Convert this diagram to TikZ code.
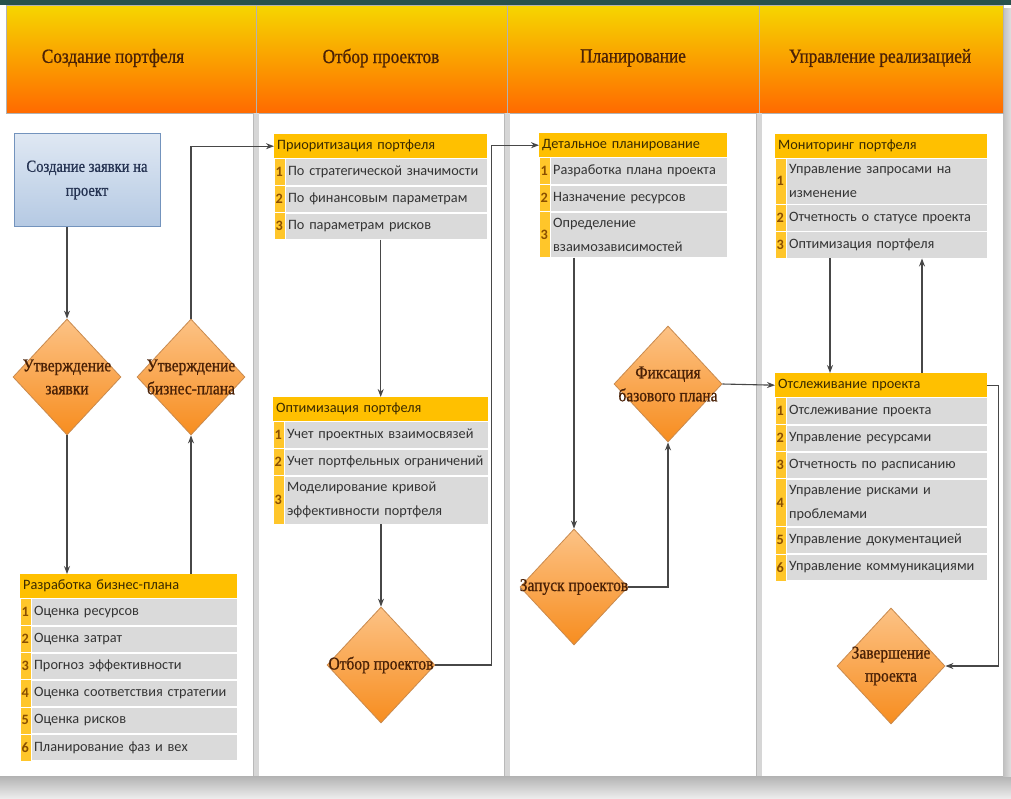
\documentclass[tikz,border=0pt]{standalone}
\usepackage{fontspec}
\setmainfont{Liberation Serif}
\newfontfamily\titlefont[FakeStretch=0.86,FakeBold=0.8]{Liberation Serif}
\newfontfamily\itemfont{Carlito}
\newcommand\rowfont{\itemfont\fontsize{14.3}{24}\selectfont}
\usetikzlibrary{shapes.geometric,arrows.meta,positioning}
\definecolor{headtop}{HTML}{F6D600}
\definecolor{headmid}{HTML}{FFA400}
\definecolor{headbot}{HTML}{FF6A00}
\definecolor{titlebrown}{HTML}{4A2106}
\definecolor{headyel}{HTML}{FFC000}
\definecolor{numyel}{HTML}{FFC62A}
\definecolor{itemgray}{HTML}{DADADA}
\definecolor{itemtext}{HTML}{343434}
\definecolor{headtext}{HTML}{3A2A00}
\definecolor{numtext}{HTML}{8A4F00}
\definecolor{diatop}{HTML}{FCC285}
\definecolor{diabot}{HTML}{F78D1F}
\definecolor{diaedge}{HTML}{C98A4E}
\definecolor{boxtop}{HTML}{DFE8F3}
\definecolor{boxbot}{HTML}{B5C9E3}
\definecolor{boxedge}{HTML}{7393BD}
\definecolor{boxtext}{HTML}{253352}
\definecolor{arrowgray}{HTML}{474747}
\definecolor{slideteal}{HTML}{27514B}
\definecolor{divgray}{HTML}{D6D6D6}

\begin{document}
\begin{tikzpicture}[x=1pt,y=-1pt,
    flow/.style={draw=arrowgray, line width=1.1pt, -{Stealth[length=8pt,width=6pt]}},
    lane/.style={anchor=north west, minimum height=108pt, inner sep=0pt, top color=headtop, middle color=headmid, bottom color=headbot, draw=gray!60, line width=0.4pt},
    lanetitle/.style={font=\titlefont\fontsize{20}{24}\selectfont, text=titlebrown},
    decision/.style={diamond, minimum width=108pt, minimum height=116pt, inner sep=0pt, top color=diatop, bottom color=diabot, draw=diaedge, line width=0.8pt},
    dtext/.style={font=\titlefont\fontsize{18}{23}\selectfont, text=titlebrown, align=center},
    reqbox/.style={minimum width=146pt, minimum height=93pt, top color=boxtop, bottom color=boxbot, draw=boxedge, line width=0.8pt, font=\titlefont\fontsize{17}{24}\selectfont, text=boxtext, align=center},
    listhead/.style={anchor=north west, fill=headyel, text=headtext, font=\rowfont, inner xsep=3pt, inner ysep=0pt, minimum height=24pt, text width=#1, align=left},
    itemrow/.style={anchor=north east, fill=itemgray, draw=white, line width=0.6pt, text=itemtext, font=\rowfont, inner xsep=3pt, inner ysep=6pt, minimum height=26.5pt, text width=#1, align=left},
    itemnum/.style={text=numtext, font=\rowfont\bfseries, inner sep=0pt}]

    \useasboundingbox (0,0) rectangle (1011,798);
    \fill[white] (0,0) rectangle (1011,798);
    \fill[top color=gray!60, bottom color=gray!15] (0,776) rectangle (1011,798);
    \fill[left color=gray!50, right color=gray!25] (1003,8) rectangle (1011,776);
    \fill[slideteal] (0,0) rectangle (1011,5);
    \fill[white] (6,5) rectangle (1003,776);

    \node[lane, minimum width=250pt] (h1) at (  6,5) {};
    \node[lane, minimum width=251pt] (h2) at (256,5) {};
    \node[lane, minimum width=252pt] (h3) at (507,5) {};
    \node[lane, minimum width=244pt] (h4) at (759,5) {};
    \node[lanetitle] (t1) at (113,58) {Создание портфеля};
    \node[lanetitle] (t2) at (381,58) {Отбор проектов};
    \node[lanetitle] (t3) at (633,58) {Планирование};
    \node[lanetitle] (t4) at (880,58) {Управление реализацией};

    \foreach \x in {256,507,759} {
        \draw[divgray, line width=5pt] (\x,113) -- (\x,776);
        \draw[gray!55, line width=0.5pt] (\x-2.5,113) -- (\x-2.5,776);
    }

    \node[reqbox] (zayavka) at (87,180) {Создание заявки на\\проект};
    \node[decision, label={[dtext,name=utv1t]center:Утверждение\\заявки}] (utv1) at ( 67,377) {};
    \node[decision, label={[dtext,name=utv2t]center:Утверждение\\бизнес-плана}] (utv2) at (191,377) {};
    \node[decision, label={[dtext,name=otbort]center:Отбор проектов}] (otbor) at (381,665) {};
    \node[decision, label={[dtext,name=zapuskt]center:Запуск проектов}] (zapusk) at (574,587) {};
    \node[decision, label={[dtext,name=fikst]center:Фиксация\\базового плана}] (fiks) at (668,384) {};
    \node[decision, label={[dtext,name=zavt]center:Завершение\\проекта}] (zav) at (891,666) {};

    \node[listhead=211] (bp) at (20,574) {Разработка бизнес-плана};
    \node[itemrow=200] (b1) at (bp.south east) {Оценка ресурсов};
    \node[itemrow=200] (b2) at (b1.south east) {Оценка затрат};
    \node[itemrow=200] (b3) at (b2.south east) {Прогноз эффективности};
    \node[itemrow=200] (b4) at (b3.south east) {Оценка соответствия стратегии};
    \node[itemrow=200] (b5) at (b4.south east) {Оценка рисков};
    \node[itemrow=200] (b6) at (b5.south east) {Планирование фаз и вех};

    \node[listhead=207] (prio) at (274,134) {Приоритизация портфеля};
    \node[itemrow=196] (p1) at (prio.south east) {По стратегической значимости};
    \node[itemrow=196] (p2) at (p1.south east) {По финансовым параметрам};
    \node[itemrow=196] (p3) at (p2.south east) {По параметрам рисков};

    \node[listhead=209] (opt) at (273,397) {Оптимизация портфеля};
    \node[itemrow=198] (o1) at (opt.south east) {Учет проектных взаимосвязей};
    \node[itemrow=198] (o2) at (o1.south east) {Учет портфельных ограничений};
    \node[itemrow=198] (o3) at (o2.south east) {Моделирование кривой\\эффективности портфеля};

    \node[listhead=182] (det) at (539,133) {Детальное планирование};
    \node[itemrow=171] (d1) at (det.south east) {Разработка плана проекта};
    \node[itemrow=171] (d2) at (d1.south east) {Назначение ресурсов};
    \node[itemrow=171] (d3) at (d2.south east) {Определение\\взаимозависимостей};

    \node[listhead=206] (mon) at (775,134) {Мониторинг портфеля};
    \node[itemrow=195] (m1) at (mon.south east) {Управление запросами на\\изменение};
    \node[itemrow=195] (m2) at (m1.south east) {Отчетность о статусе проекта};
    \node[itemrow=195] (m3) at (m2.south east) {Оптимизация портфеля};

    \node[listhead=206] (otsl) at (775,373) {Отслеживание проекта};
    \node[itemrow=195] (s1) at (otsl.south east) {Отслеживание проекта};
    \node[itemrow=195] (s2) at (s1.south east) {Управление ресурсами};
    \node[itemrow=195] (s3) at (s2.south east) {Отчетность по расписанию};
    \node[itemrow=195] (s4) at (s3.south east) {Управление рисками и\\проблемами};
    \node[itemrow=195] (s5) at (s4.south east) {Управление документацией};
    \node[itemrow=195] (s6) at (s5.south east) {Управление коммуникациями};

    \foreach \r/\n in {b1/1,b2/2,b3/3,b4/4,b5/5,b6/6,p1/1,p2/2,p3/3,o1/1,o2/2,o3/3,d1/1,d2/2,d3/3,m1/1,m2/2,m3/3,s1/1,s2/2,s3/3,s4/4,s5/5,s6/6} {
        \filldraw[fill=numyel, draw=white, line width=0.6pt] ([xshift=-11pt]\r.north west) rectangle (\r.south west);
        \node[itemnum] (n\r) at ([xshift=-5.5pt]\r.west) {\n};
    }

    \coordinate (mdown) at (830,0);
    \coordinate (mup) at (922,0);

    \draw[flow] (zayavka.south -| utv1.north) -- (utv1.north);
    \draw[flow] (utv1.south) -- (utv1.south |- bp.north);
    \draw[flow] (utv2.south |- bp.north) -- (utv2.south);
    \draw[flow] (utv2.north) |- (prio.west);
    \draw[flow] (opt.north |- p3.south) -- (opt.north);
    \draw[flow] (otbor.north |- o3.south) -- (otbor.north);
    \draw[flow] (otbor.east) -- ++(56,0) |- (det.west);
    \draw[flow] (zapusk.north |- d3.south) -- (zapusk.north);
    \draw[flow] (zapusk.east) -| (fiks.south);
    \draw[flow] (fiks.east) -- (otsl.west);
    \draw[flow] (mdown |- m3.south) -- (mdown |- otsl.north);
    \draw[flow] (mup |- otsl.north) -- (mup |- m3.south);
    \draw[flow] (otsl.east) -- ++(11,0) |- (zav.east);
\end{tikzpicture}
\end{document}
